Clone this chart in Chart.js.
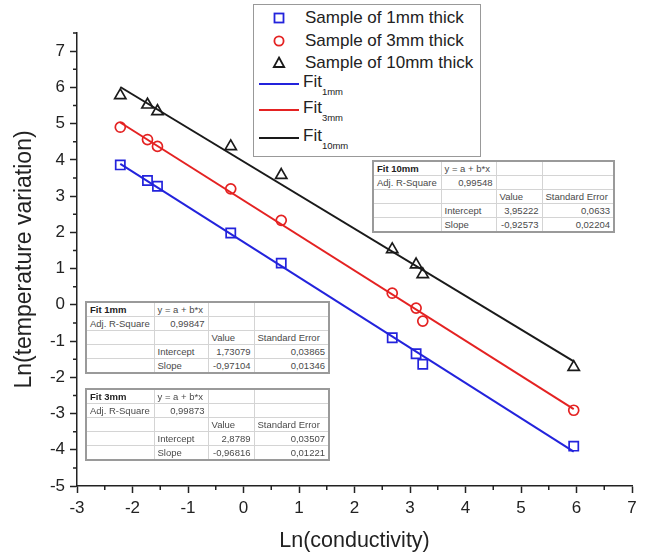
<!DOCTYPE html>
<html>
<head>
<meta charset="utf-8">
<script src="https://cdn.jsdelivr.net/npm/chart.js@4.4.0/dist/chart.umd.min.js"></script>
<style>
body { margin: 0; background: #fff; font-family: "Liberation Sans", Arial, sans-serif; }
#wrap { position: relative; width: 651px; height: 556px; }
#chart { position: absolute; left: 0; top: 0; }
#legend { position: absolute; left: 253px; top: 4px; width: 226px; height: 151px; border: 1.5px solid #999; background: #fff; color: #222; font-size: 17px; }
#legend .item { position: absolute; left: 0; height: 20px; line-height: 20px; white-space: nowrap; }
#legend svg { position: absolute; top: 0; }
#legend .txt { position: absolute; }
#legend sub { font-size: 9.5px; vertical-align: -8px; }
table.fit { position: absolute; border-collapse: collapse; border: 2px solid #9a9a9a; background: #fff; font-size: 9.5px; color: #4a4a4a; table-layout: fixed; }
table.fit td { border: 1px solid #d4d4d4; height: 13px; padding: 0 3px; line-height: 12px; white-space: nowrap; overflow: hidden; }
table.fit td.n { text-align: right; }
table.fit td.b { font-weight: bold; color: #222; }
</style>
</head>
<body>
<div id="wrap">
  <canvas id="chart" width="651" height="556"></canvas>
  <div id="legend"></div>
</div>
<script>
// Ln(conductivity) of the samples (same for every thickness)
var lnConductivity = [-2.22, -1.73, -1.55, -0.23, 0.68, 2.68, 3.11, 3.23, 5.95];

// Ln(temperature variation) for each sample thickness
var thick1mm = [3.86, 3.43, 3.27, 1.98, 1.15, -0.91, -1.35, -1.64, -3.90];
var thick3mm = [4.90, 4.56, 4.37, 3.20, 2.33, 0.32, -0.09, -0.45, -2.91];
var thick10mm = [5.78, 5.52, 5.34, 4.37, 3.58, 1.53, 1.11, 0.84, -1.72];

// fitted lines, start and end points
var fitX = [-2.22, 5.95];
var fit1mm = [3.89, -4.05];
var fit3mm = [5.03, -2.88];
var fit10mm = [6.01, -1.56];

// fit result tables
var fitTables = [
    {name: "Fit 10mm", r2: "0,99548", intercept: ["3,95222", "0,0633"], slope: ["-0,92573", "0,02204"], left: 372, top: 160, cols: [68, 55, 46, 72]},
    {name: "Fit 1mm", r2: "0,99847", intercept: ["1,73079", "0,03865"], slope: ["-0,97104", "0,01346"], left: 85, top: 301, cols: [68, 54, 46, 75]},
    {name: "Fit 3mm", r2: "0,99873", intercept: ["2,8789", "0,03507"], slope: ["-0,96816", "0,01221"], left: 85, top: 388, cols: [68, 54, 46, 75]}
];

var blue = '#2323dc', red = '#e42222', black = '#1a1a1a';

function points(xs, ys) {
    return xs.map(function (x, i) { return {x: x, y: ys[i]}; });
}

// Minor ticks at half units, drawn with the scales' own pixel mapping
var minorTicks = {
    id: 'minorTicks',
    afterDraw: function (chart) {
        var ctx = chart.ctx;
        var xs = chart.scales.x, ys = chart.scales.y;
        ctx.save();
        ctx.strokeStyle = '#222';
        ctx.lineWidth = 1.5;
        ctx.beginPath();
        for (var v = xs.min + 0.5; v < xs.max; v += 1) {
            var px = xs.getPixelForValue(v);
            ctx.moveTo(px, xs.top);
            ctx.lineTo(px, xs.top + 4);
        }
        for (var w = ys.min + 0.5; w <= ys.max; w += 1) {
            var py = ys.getPixelForValue(w);
            ctx.moveTo(ys.right, py);
            ctx.lineTo(ys.right - 4, py);
        }
        ctx.stroke();
        ctx.restore();
    }
};

var ctx = document.getElementById('chart').getContext('2d');
var chart = new Chart(ctx, {
    type: 'scatter',
    data: {
        datasets: [
            {label: 'Fit1mm', data: points(fitX, fit1mm), showLine: true, borderColor: blue, borderWidth: 2, pointRadius: 0},
            {label: 'Fit3mm', data: points(fitX, fit3mm), showLine: true, borderColor: red, borderWidth: 2, pointRadius: 0},
            {label: 'Fit10mm', data: points(fitX, fit10mm), showLine: true, borderColor: black, borderWidth: 2, pointRadius: 0},
            {label: 'Sample of 1mm thick', data: points(lnConductivity, thick1mm), pointStyle: 'rect', pointRadius: 6.5, borderColor: blue, backgroundColor: 'rgba(0,0,0,0)', pointBorderWidth: 1.7},
            {label: 'Sample of 3mm thick', data: points(lnConductivity, thick3mm), pointStyle: 'circle', pointRadius: 5, borderColor: red, backgroundColor: 'rgba(0,0,0,0)', pointBorderWidth: 1.7},
            {label: 'Sample of 10mm thick', data: points(lnConductivity, thick10mm), pointStyle: 'triangle', pointRadius: 6.5, borderColor: black, backgroundColor: 'rgba(0,0,0,0)', pointBorderWidth: 1.7}
        ]
    },
    options: {
        responsive: false,
        animation: false,
        layout: {padding: {left: 0, top: 33, right: 19, bottom: 0}},
        plugins: {legend: {display: false}, tooltip: {enabled: false}},
        scales: {
            x: {
                type: 'linear', min: -3, max: 7,
                ticks: {stepSize: 1, includeBounds: false, color: '#222', font: {size: 17, family: 'Liberation Sans'}, padding: 5, maxRotation: 0},
                grid: {drawOnChartArea: false, tickLength: 7, tickColor: '#222', tickWidth: 1.5},
                border: {color: '#222', width: 1.5},
                title: {display: true, text: 'Ln(conductivity)', color: '#222', font: {size: 21.5, family: 'Liberation Sans'}, padding: {top: 0, bottom: 2}},
                afterFit: function (s) { s.height = 70; }
            },
            y: {
                type: 'linear', min: -5, max: 7.5,
                ticks: {stepSize: 1, includeBounds: false, color: '#222', font: {size: 17, family: 'Liberation Sans'}, padding: 5},
                grid: {drawOnChartArea: false, tickLength: 7, tickColor: '#222', tickWidth: 1.5},
                border: {color: '#222', width: 1.5},
                title: {display: true, text: 'Ln(temperature variation)', color: '#222', font: {size: 23, family: 'Liberation Sans'}, padding: {top: 11, bottom: 0}},
                afterFit: function (s) { s.width = 77; }
            }
        }
    },
    plugins: [minorTicks]
});

// Legend box
var legend = document.getElementById('legend');
var markerSvg = {
    rect: '<rect x="5.5" y="5.5" width="9" height="9" fill="none" stroke-width="1.8" stroke="C"/>',
    circle: '<circle cx="10" cy="10" r="4.6" fill="none" stroke-width="1.8" stroke="C"/>',
    triangle: '<polygon points="10,4.5 15.2,14 4.8,14" fill="none" stroke-width="1.8" stroke="C"/>'
};
var legendItems = [
    {ds: 3, top: 7}, {ds: 4, top: 30}, {ds: 5, top: 52},
    {ds: 0, top: 71, sub: '1mm'}, {ds: 1, top: 97, sub: '3mm'}, {ds: 2, top: 125, sub: '10mm'}
];
legendItems.forEach(function (it) {
    var ds = chart.data.datasets[it.ds];
    var div = document.createElement('div');
    div.className = 'item';
    div.style.top = (it.top - 4) + 'px';
    var svg, txt;
    if (it.sub) {
        svg = '<svg width="44" height="20" style="left:5px"><line x1="0" y1="12" x2="40" y2="12" stroke="' + ds.borderColor + '" stroke-width="2"/></svg>';
        txt = '<span class="txt" style="left:49px">Fit<sub>' + it.sub + '</sub></span>';
    } else {
        svg = '<svg width="20" height="20" style="left:15px">' + markerSvg[ds.pointStyle].replace('C', ds.borderColor) + '</svg>';
        txt = '<span class="txt" style="left:51px">' + ds.label + '</span>';
    }
    div.innerHTML = svg + txt;
    legend.appendChild(div);
});

// Fit result tables
var wrap = document.getElementById('wrap');
fitTables.forEach(function (f) {
    var t = document.createElement('table');
    t.className = 'fit';
    t.style.left = f.left + 'px';
    t.style.top = f.top + 'px';
    var cg = '<colgroup>' + f.cols.map(function (w) { return '<col style="width:' + w + 'px">'; }).join('') + '</colgroup>';
    t.innerHTML = cg +
        '<tr><td class="b">' + f.name + '</td><td>y = a + b*x</td><td></td><td></td></tr>' +
        '<tr><td>Adj. R-Square</td><td class="n">' + f.r2 + '</td><td></td><td></td></tr>' +
        '<tr><td></td><td></td><td>Value</td><td>Standard Error</td></tr>' +
        '<tr><td></td><td>Intercept</td><td class="n">' + f.intercept[0] + '</td><td class="n">' + f.intercept[1] + '</td></tr>' +
        '<tr><td></td><td>Slope</td><td class="n">' + f.slope[0] + '</td><td class="n">' + f.slope[1] + '</td></tr>';
    wrap.appendChild(t);
});
</script>
</body>
</html>
